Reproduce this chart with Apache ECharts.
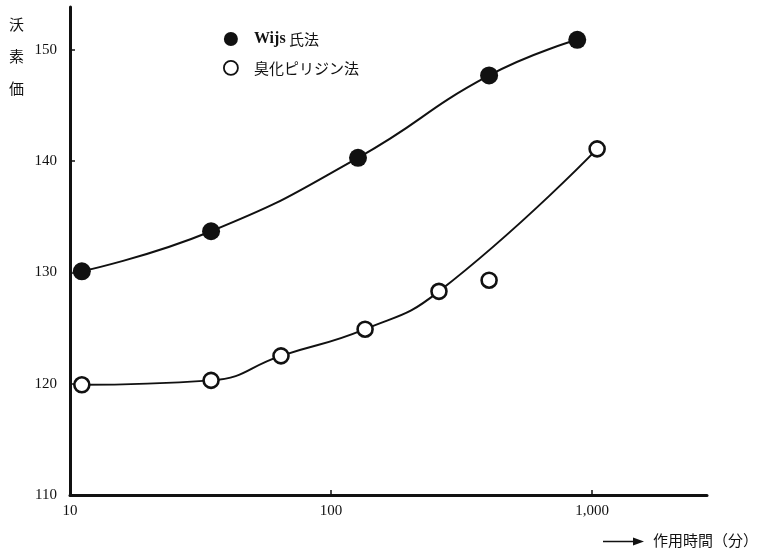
<!DOCTYPE html>
<html>
<head>
<meta charset="utf-8">
<script src="https://cdn.jsdelivr.net/npm/echarts@6/dist/echarts.min.js"></script>
<style>
  html, body { margin: 0; padding: 0; background: #fff; }
  #chart { width: 760px; height: 552px; }
</style>
</head>
<body>
<div id="chart"></div>
<script>
// ---- data ----
const wijsName = 'Wijs 氏法';
const pyrName = '臭化ピリジン法';
const wijsTime = [11.1, 34.7, 126.8, 403, 877];
const wijsValue = [130.1, 133.7, 140.3, 147.7, 150.9];
const pyrTime = [11.1, 34.7, 64.3, 135, 259, 403, 1045];
const pyrValue = [119.9, 120.3, 122.5, 124.9, 128.3, 129.3, 141.1];
const pyrOnCurve = [true, true, true, true, true, false, true];
const yTitle = '沃\n素\n価';
const xTitle = '作用時間（分）';

const ink = '#111';
const serif = '"Liberation Serif", "DejaVu Serif", serif';
const cjk = '"Noto Sans CJK JP", "Noto Sans", sans-serif';

const wijsPts = wijsTime.map((t, i) => [t, wijsValue[i]]);
const pyrPts = pyrTime.map((t, i) => [t, pyrValue[i]]);
const pyrCurvePts = pyrPts.filter((p, i) => pyrOnCurve[i]);

const chart = echarts.init(document.getElementById('chart'), null, { renderer: 'canvas' });
chart.setOption({
  backgroundColor: '#fff',
  animation: false,
  grid: { left: 70, right: 53, top: 7, bottom: 57, containLabel: false },
  xAxis: {
    type: 'log', logBase: 10, min: 10, max: 2754,
    axisLine: { show: true, lineStyle: { color: ink, width: 3 } },
    axisTick: { show: true, inside: true, length: 5, lineStyle: { color: ink, width: 1.5 } },
    splitLine: { show: false },
    axisLabel: {
      showMaxLabel: false, margin: 9, color: ink, fontFamily: serif, fontSize: 15,
      formatter: v => Math.round(v).toLocaleString('en-US')
    }
  },
  yAxis: {
    type: 'value', min: 110, max: 153.85, interval: 10,
    axisLine: { show: true, lineStyle: { color: ink, width: 3 } },
    axisTick: { show: true, inside: true, length: 5, lineStyle: { color: ink, width: 1.5 } },
    splitLine: { show: false },
    axisLabel: { showMaxLabel: false, margin: 13, color: ink, fontFamily: serif, fontSize: 15 }
  },
  legend: {
    orient: 'vertical', left: 218, top: 26, itemWidth: 14, itemHeight: 14, itemGap: 13,
    selectedMode: false,
    data: [
      { name: wijsName, icon: 'circle', itemStyle: { color: ink, borderWidth: 0, opacity: 1 } },
      { name: pyrName, icon: 'circle', itemStyle: { color: '#fff', borderColor: ink, borderWidth: 1.8, opacity: 1 } }
    ],
    formatter: name => name === wijsName ? '{b|Wijs} {c|氏法}' : '{c|' + name + '}',
    textStyle: {
      padding: [0, 0, 0, 11],
      rich: {
        b: { fontFamily: serif, fontWeight: 'bold', fontSize: 16, color: ink },
        c: { fontFamily: cjk, fontSize: 15, color: ink }
      }
    }
  },
  series: [
    {
      type: 'line', data: wijsPts, smooth: 0.5, symbol: 'none', silent: true,
      lineStyle: { color: ink, width: 2 }, z: 2
    },
    {
      type: 'line', data: pyrCurvePts, smooth: 0.5, symbol: 'none', silent: true,
      lineStyle: { color: ink, width: 2 }, z: 2
    },
    {
      name: wijsName, type: 'scatter', data: wijsPts, symbol: 'circle', symbolSize: 18,
      itemStyle: { color: ink, opacity: 1 }, z: 3
    },
    {
      name: pyrName, type: 'scatter', data: pyrPts, symbol: 'circle', symbolSize: 15,
      itemStyle: { color: '#fff', borderColor: ink, borderWidth: 2.6, opacity: 1 }, z: 3
    }
  ],
  graphic: [
    {
      type: 'text', left: 9, top: 8, silent: true,
      style: { text: yTitle, font: '15px ' + cjk, lineHeight: 32, fill: ink }
    },
    {
      type: 'line', silent: true,
      shape: { x1: 603, y1: 541.5, x2: 636, y2: 541.5 },
      style: { stroke: ink, lineWidth: 1.3 }
    },
    {
      type: 'polygon', silent: true,
      shape: { points: [[633, 537.5], [644, 541.5], [633, 545.5]] },
      style: { fill: ink }
    },
    {
      type: 'text', left: 653, top: 533, silent: true,
      style: { text: xTitle, font: '15px ' + cjk, fill: ink }
    }
  ]
});
</script>
</body>
</html>
